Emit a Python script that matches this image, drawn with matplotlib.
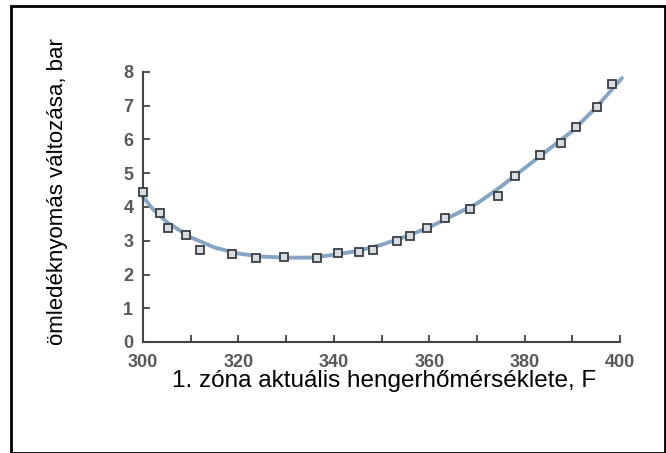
import matplotlib.pyplot as plt
import matplotlib.patches as patches

# measured points (temperature F, pressure change bar)
temp = [300, 303.6, 305.2, 309, 312, 318.7, 323.7, 329.6, 336.5, 340.9, 345.3,
        348.2, 353.2, 356, 359.5, 363.3, 368.6, 374.4, 378, 383.2, 387.6,
        390.8, 395.2, 398.3]
pressure = [4.44, 3.82, 3.38, 3.16, 2.72, 2.62, 2.48, 2.51, 2.48, 2.64, 2.67,
            2.74, 3.0, 3.15, 3.38, 3.67, 3.95, 4.32, 4.92, 5.55, 5.9,
            6.38, 6.97, 7.63]

# fitted trend line
fit_temp = [300, 302, 305, 310, 315, 320, 325, 330, 335, 340, 345, 350, 355,
            360, 365, 370, 375, 380, 385, 390, 395, 400.4]
fit_pressure = [4.3, 3.95, 3.55, 3.1, 2.8, 2.62, 2.53, 2.5, 2.5, 2.58, 2.7,
                2.88, 3.12, 3.4, 3.75, 4.1, 4.6, 5.15, 5.7, 6.25, 6.95, 7.82]

x_ticks = list(range(300, 401, 10))
x_labels = [str(t) if t % 20 == 0 else '' for t in x_ticks]
y_ticks = list(range(0, 9))

plt.rcParams['font.family'] = ['Liberation Sans', 'DejaVu Sans']

fig = plt.figure(figsize=(6.66, 4.53), dpi=100, facecolor='w')
ax = fig.add_axes([143 / 666, 1 - 342 / 453, 477 / 666, 270 / 453])

ax.plot(fit_temp, fit_pressure, color='#86a5c2', linewidth=2.8,
        solid_capstyle='round', zorder=2, clip_on=False)
ax.plot(temp, pressure, linestyle='none', marker='s', markersize=6,
        markerfacecolor='#d8dde2', markeredgecolor='#3a3f44',
        markeredgewidth=1.3, zorder=3, clip_on=False)

ax.set_xlim(300, 400)
ax.set_ylim(0, 8)
ax.set_xticks(x_ticks)
ax.set_xticklabels(x_labels)
ax.set_yticks(y_ticks)
ax.tick_params(direction='in', length=5, width=1.2, color='#333',
               labelsize=13, labelcolor='#595959')
ax.tick_params(axis='x', pad=8.5)
ax.tick_params(axis='y', pad=7)
for lbl in ax.get_xticklabels() + ax.get_yticklabels():
    lbl.set_fontweight('bold')

for side in ['top', 'right']:
    ax.spines[side].set_visible(False)
for side in ['left', 'bottom']:
    ax.spines[side].set_linewidth(1.5)
    ax.spines[side].set_color('#444')
ax.patch.set_alpha(0)

fig.text(384 / 666, 1 - 381 / 453, '1. zóna aktuális hengerhőmérséklete, F',
         ha='center', va='center', fontsize=17.5)
fig.text(58 / 666, 1 - 192 / 453, 'ömledéknyomás változása, bar',
         ha='center', va='center', rotation=90, fontsize=16)

# outer frame
fig.patches.append(patches.Rectangle(
    (11 / 666, 0), 654 / 666, 1 - 6 / 453, transform=fig.transFigure,
    fill=False, edgecolor='k', linewidth=2,
))

fig.savefig('out.png', dpi=100)
